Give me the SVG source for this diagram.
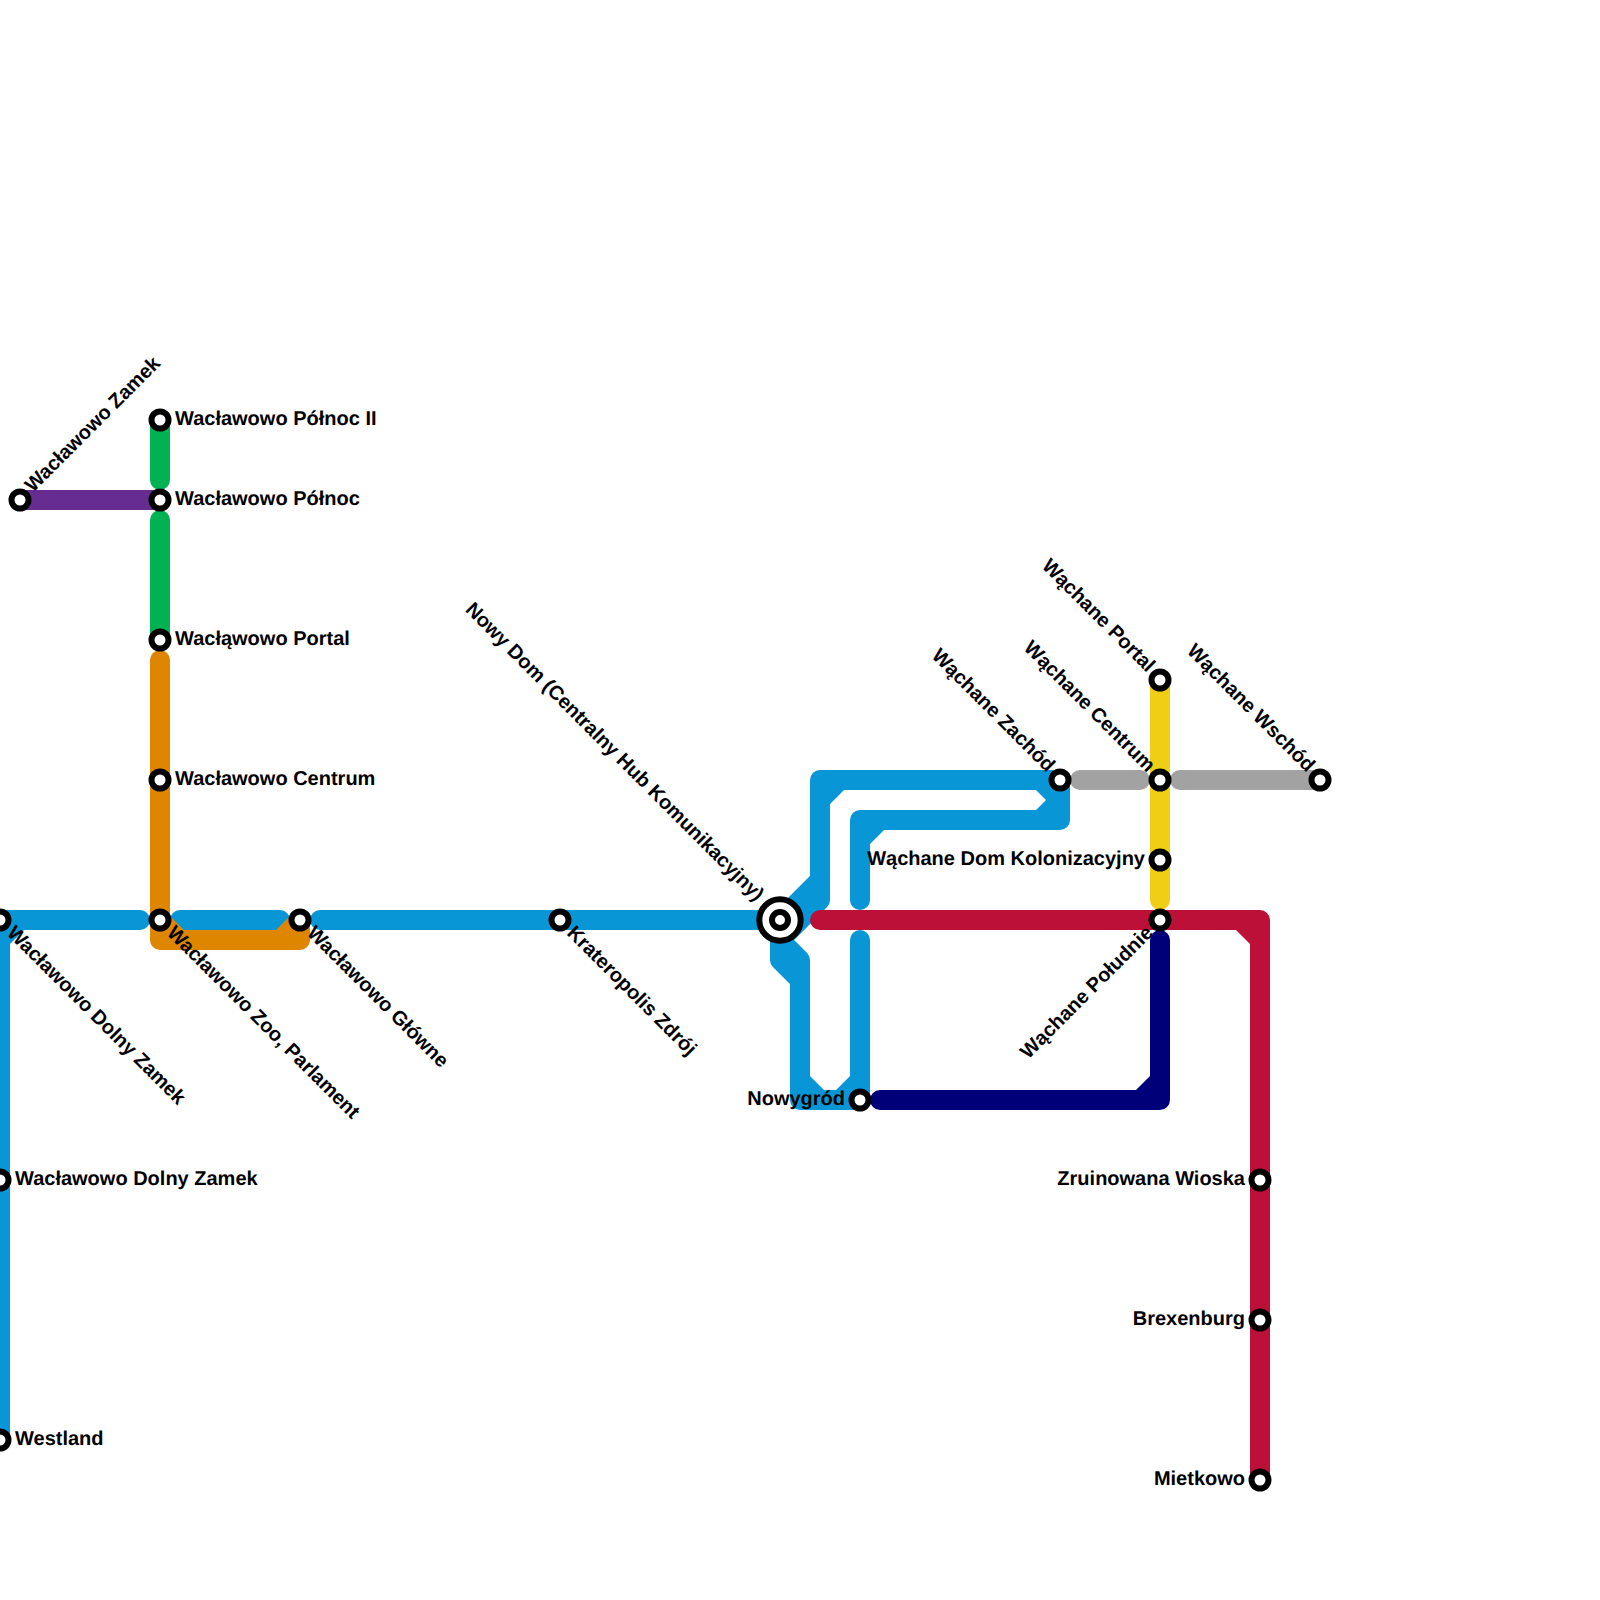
<svg xmlns="http://www.w3.org/2000/svg" width="1600" height="1600" viewBox="0 0 1600 1600">
<style>
.l{fill:none;stroke-width:20;stroke-linecap:round;stroke-linejoin:round}
.b{stroke:#0896d7}.bf{fill:#0896d7}
.o{stroke:#df8600}.of{fill:#df8600}
.r{stroke:#bd1038}.rf{fill:#bd1038}
.n{stroke:#000078}.nf{fill:#000078}
.g{stroke:#00b251}.p{stroke:#662c90}.y{stroke:#f0ce15}.a{stroke:#a2a2a2}
.s{fill:#fff;stroke:#000;stroke-width:6}
text{font-family:"Liberation Sans",Arial,sans-serif;font-weight:700;font-size:20px;fill:#000;text-rendering:geometricPrecision}
.e{text-anchor:end}
</style>
<rect width="1600" height="1600" fill="#fff"/>
<g id="connectors">
<path class="l b" d="M0 920H140M0 920V1440M180 920H280M320 920H780"/>
<path class="bf" d="M10 944V930H24Z"/>
<path class="l b" d="M780 920L820 880V780H1060V820H860V900M820 900V880M820 900L780 940"/>
<path class="bf" d="M830 790V804L844 790ZM1036 790L1046 800L1036 810H1050V790ZM870 830V844L884 830Z"/>
<path class="l b" d="M780 920V960L800 980V1100H860V940M780 940L800 960V980"/>
<path class="bf" d="M810 1090V1076L824 1090ZM850 1090V1076L836 1090Z"/>
<path class="l o" d="M160 660V940H300V920"/>
<path class="of" d="M170 930V916L184 930ZM290 930V916L276 930Z"/>
<path class="l g" d="M160 420V480M160 520V640"/>
<path class="l p" d="M20 500H160"/>
<path class="l n" d="M1160 940V1100H880"/>
<path class="nf" d="M1150 1090V1076L1136 1090Z"/>
<path class="l r" d="M820 920H1260V1480"/>
<path class="rf" d="M1250 930V944L1236 930Z"/>
<path class="l y" d="M1160 680V900"/>
<path class="l a" d="M1080 780H1140M1180 780H1320"/>
</g>
<g id="st-wp2"><circle class="s" cx="160" cy="420" r="8.5"/><text x="175" y="425">Wacławowo Północ II</text></g>
<g id="st-wp"><circle class="s" cx="160" cy="500" r="8.5"/><text x="175" y="505">Wacławowo Północ</text></g>
<g id="st-wz"><circle class="s" cx="20" cy="500" r="8.5"/><text transform="translate(33 493) rotate(-45)">Wacławowo Zamek</text></g>
<g id="st-wpo"><circle class="s" cx="160" cy="640" r="8.5"/><text x="175" y="645">Wacłąwowo Portal</text></g>
<g id="st-wc"><circle class="s" cx="160" cy="780" r="8.5"/><text x="175" y="785">Wacławowo Centrum</text></g>
<g id="st-wzoo"><circle class="s" cx="160" cy="920" r="8.5"/><text transform="translate(166 934) rotate(45)">Wacławowo Zoo, Parlament</text></g>
<g id="st-wdz1"><circle class="s" cx="0" cy="920" r="8.5"/><text transform="translate(6 934) rotate(45)">Wacławowo Dolny Zamek</text></g>
<g id="st-wdz2"><circle class="s" cx="0" cy="1180" r="8.5"/><text x="15" y="1185">Wacławowo Dolny Zamek</text></g>
<g id="st-west"><circle class="s" cx="0" cy="1440" r="8.5"/><text x="15" y="1445">Westland</text></g>
<g id="st-wg"><circle class="s" cx="300" cy="920" r="8.5"/><text transform="translate(306 934) rotate(45)">Wacławowo Główne</text></g>
<g id="st-kz"><circle class="s" cx="560" cy="920" r="8.5"/><text transform="translate(566 934) rotate(45)">Krateropolis Zdrój</text></g>
<g id="st-hub"><circle class="s" cx="780" cy="920" r="20.7"/><circle class="s" cx="780" cy="920" r="8"/><text class="e" transform="translate(756 902) rotate(45)">Nowy Dom (Centralny Hub Komunikacyjny)</text></g>
<g id="st-nowy"><circle class="s" cx="860" cy="1100" r="8.5"/><text class="e" x="845" y="1105">Nowygród</text></g>
<g id="st-wqz"><circle class="s" cx="1060" cy="780" r="8.5"/><text class="e" transform="translate(1047 773) rotate(45)">Wąchane Zachód</text></g>
<g id="st-wqp"><circle class="s" cx="1160" cy="680" r="8.5"/><text class="e" transform="translate(1147 673) rotate(45)">Wąchane Portal</text></g>
<g id="st-wqc"><circle class="s" cx="1160" cy="780" r="8.5"/><text class="e" transform="translate(1147 773) rotate(45)">Wąchane Centrum</text></g>
<g id="st-wqd"><circle class="s" cx="1160" cy="860" r="8.5"/><text class="e" x="1145" y="865">Wąchane Dom Kolonizacyjny</text></g>
<g id="st-wqs"><circle class="s" cx="1160" cy="920" r="8.5"/><text class="e" transform="translate(1154 934) rotate(-45)">Wąchane Południe</text></g>
<g id="st-wqw"><circle class="s" cx="1320" cy="780" r="8.5"/><text class="e" transform="translate(1307 773) rotate(45)">Wąchane Wschód</text></g>
<g id="st-zw"><circle class="s" cx="1260" cy="1180" r="8.5"/><text class="e" x="1245" y="1185">Zruinowana Wioska</text></g>
<g id="st-br"><circle class="s" cx="1260" cy="1320" r="8.5"/><text class="e" x="1245" y="1325">Brexenburg</text></g>
<g id="st-mi"><circle class="s" cx="1260" cy="1480" r="8.5"/><text class="e" x="1245" y="1485">Mietkowo</text></g>
</svg>
